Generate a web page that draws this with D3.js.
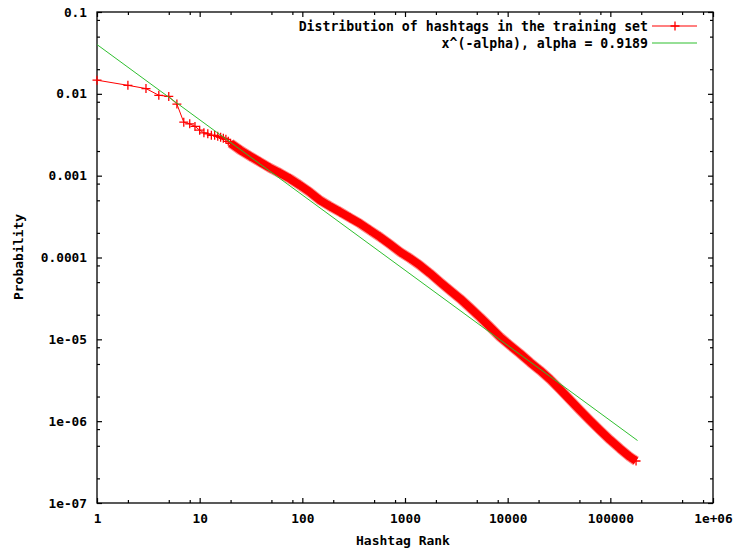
<!DOCTYPE html>
<html>
<head>
<meta charset="utf-8">
<script src="https://cdn.jsdelivr.net/npm/d3@7"></script>
<style>
body { margin: 0; background: #fff; }
svg text { font-family: "DejaVu Sans Mono", monospace; font-weight: bold; fill: #000; }
</style>
</head>
<body>
<svg id="chart" width="737" height="549"></svg>
<script>
// hashtag rank / probability
var ranks = [1, 2, 3, 4, 5, 6, 7, 8, 9, 10, 11, 12, 13, 14, 15, 16, 17, 18, 19, 20,
  25, 31, 39, 48, 61, 76, 95, 119, 149, 186, 233, 291, 364, 456, 571, 714, 894,
  1120, 1400, 1750, 2190, 2740, 3430, 4300, 5380, 6730, 8420, 10500, 13200, 16500,
  20600, 25800, 32300, 40500, 50600, 63400, 79300, 99200, 124000, 155000, 178000];
var probs = [0.0147, 0.0127, 0.0116, 0.0096, 0.0093, 0.0075, 0.0045, 0.0043, 0.0040, 0.0036,
  0.00334, 0.00325, 0.00311, 0.00311, 0.00303, 0.00294, 0.00286, 0.00278, 0.00263, 0.00249,
  0.00204, 0.00173, 0.00146, 0.00125, 0.00107, 0.000916, 0.000763, 0.000626, 0.000500,
  0.000422, 0.000360, 0.000306, 0.000260, 0.000215, 0.000178, 0.000145, 0.000117,
  0.0000978, 0.0000803, 0.0000641, 0.0000502, 0.0000397, 0.0000315, 0.0000243, 0.0000187,
  0.0000142, 0.0000107, 8.46e-6, 6.69e-6, 5.24e-6, 4.18e-6, 3.25e-6, 2.45e-6, 1.82e-6,
  1.36e-6, 1.02e-6, 7.73e-7, 5.92e-7, 4.62e-7, 3.67e-7, 3.26e-7];

// power-law fit, end points
var fitRanks = [1, 184000];
var fitProbs = [0.0400, 5.8e-7];

var xTicks = [1, 10, 100, 1000, 10000, 100000, 1000000];
var xTickLabels = ["1", "10", "100", "1000", "10000", "100000", "1e+06"];
var yTicks = [0.1, 0.01, 0.001, 0.0001, 1e-5, 1e-6, 1e-7];
var yTickLabels = ["0.1", "0.01", "0.001", "0.0001", "1e-05", "1e-06", "1e-07"];
var minorSteps = [2, 5, 8];

var seriesNames = ["Distribution of hashtags in the training set", "x^(-alpha), alpha = 0.9189"];
var bandFrom = 20;   // from here the crosses pile up into a solid band

var svg = d3.select("#chart"),
    margin = {top: 12, right: 24, bottom: 46, left: 97},
    width = +svg.attr("width") - margin.left - margin.right,
    height = +svg.attr("height") - margin.top - margin.bottom,
    g = svg.append("g").attr("transform", "translate(" + margin.left + "," + margin.top + ")");

var x = d3.scaleLog().domain([1, 1e6]).range([0, width]);
var y = d3.scaleLog().domain([1e-7, 0.1]).range([height, 0]);

var xMinor = [], yMinor = [];
xTicks.slice(0, -1).forEach(function(d) { minorSteps.forEach(function(m) { xMinor.push(d * m); }); });
yTicks.slice(1).forEach(function(d) { minorSteps.forEach(function(m) { yMinor.push(d * m); }); });

function fmt(ticks, labels) {
  return function(d) { return labels[ticks.indexOf(d)]; };
}

// axes: gnuplot style, ticks inward on all four sides
g.append("g").attr("class", "axis").attr("transform", "translate(0," + height + ")")
    .call(d3.axisBottom(x).tickValues(xTicks).tickSizeInner(-5).tickSizeOuter(0).tickPadding(11)
      .tickFormat(fmt(xTicks, xTickLabels)));
g.append("g").attr("class", "axis").attr("transform", "translate(0," + height + ")")
    .call(d3.axisBottom(x).tickValues(xMinor).tickSizeInner(-3).tickSizeOuter(0).tickFormat(""));
g.append("g").attr("class", "axis")
    .call(d3.axisTop(x).tickValues(xTicks).tickSizeInner(-5).tickSizeOuter(0).tickFormat(""));
g.append("g").attr("class", "axis")
    .call(d3.axisTop(x).tickValues(xMinor).tickSizeInner(-3).tickSizeOuter(0).tickFormat(""));

g.append("g").attr("class", "axis")
    .call(d3.axisLeft(y).tickValues(yTicks).tickSizeInner(-5).tickSizeOuter(0).tickPadding(10)
      .tickFormat(fmt(yTicks, yTickLabels)));
g.append("g").attr("class", "axis")
    .call(d3.axisLeft(y).tickValues(yMinor).tickSizeInner(-3).tickSizeOuter(0).tickFormat(""));
g.append("g").attr("class", "axis").attr("transform", "translate(" + width + ",0)")
    .call(d3.axisRight(y).tickValues(yTicks).tickSizeInner(-5).tickSizeOuter(0).tickFormat(""));
g.append("g").attr("class", "axis").attr("transform", "translate(" + width + ",0)")
    .call(d3.axisRight(y).tickValues(yMinor).tickSizeInner(-3).tickSizeOuter(0).tickFormat(""));

g.selectAll(".axis .domain").remove();
g.selectAll(".axis line").attr("stroke", "#000").attr("stroke-width", 1.2);
g.selectAll(".axis text").attr("font-size", 12.8).attr("font-family", "DejaVu Sans Mono").attr("font-weight", "bold");

g.append("rect")
    .attr("width", width)
    .attr("height", height)
    .attr("fill", "none")
    .attr("stroke", "#000")
    .attr("stroke-width", 1.3);

// data
var pts = ranks.map(function(r, i) { return {r: r, p: probs[i]}; });
var line = d3.line().x(function(d) { return x(d.r); }).y(function(d) { return y(d.p); });
var cross = "M-4.5,0H4.5M0,-4.5V4.5";

var band = pts.filter(function(d) { return d.r >= bandFrom; });
g.append("path").datum(band)
    .attr("d", line).attr("fill", "none")
    .attr("stroke", "#ff8c8c").attr("stroke-width", 10).attr("stroke-linejoin", "round");
g.append("path").datum(band)
    .attr("d", line).attr("fill", "none")
    .attr("stroke", "#ff0000").attr("stroke-width", 8).attr("stroke-linejoin", "round");

g.append("path").datum(pts)
    .attr("d", line).attr("fill", "none")
    .attr("stroke", "#ff0000").attr("stroke-width", 1);

g.append("g")
  .selectAll("path")
  .data(pts)
  .enter().append("path")
    .attr("transform", function(d) { return "translate(" + x(d.r) + "," + y(d.p) + ")"; })
    .attr("d", cross)
    .attr("stroke", "#ff0000")
    .attr("stroke-width", 1.3);

var fit = fitRanks.map(function(r, i) { return {r: r, p: fitProbs[i]}; });
g.append("path").datum(fit)
    .attr("d", line).attr("fill", "none")
    .attr("stroke", "#2fbf2f").attr("stroke-width", 1);

// axis titles
svg.append("text")
    .attr("x", 403).attr("y", 540).attr("dy", "0.35em")
    .attr("text-anchor", "middle").attr("font-size", 13)
    .text("Hashtag Rank");
svg.append("text")
    .attr("transform", "translate(18,257) rotate(-90)")
    .attr("dy", "0.35em")
    .attr("text-anchor", "middle").attr("font-size", 13)
    .text("Probability");

// legend
var legend = svg.append("g")
    .attr("font-size", 13.2)
    .attr("text-anchor", "end")
  .selectAll("g")
  .data(seriesNames)
  .enter().append("g")
    .attr("transform", function(d, i) { return "translate(0," + (26 + i * 17) + ")"; });

legend.append("text")
    .attr("x", 648)
    .attr("dy", "0.35em")
    .text(function(d) { return d; });

legend.append("line")
    .attr("x1", 652).attr("x2", 697)
    .attr("stroke", function(d, i) { return i === 0 ? "#ff0000" : "#2fbf2f"; })
    .attr("stroke-width", 1.2);

legend.filter(function(d, i) { return i === 0; }).append("path")
    .attr("transform", "translate(675,0)")
    .attr("d", cross)
    .attr("stroke", "#ff0000")
    .attr("stroke-width", 1.3);
</script>
</body>
</html>
